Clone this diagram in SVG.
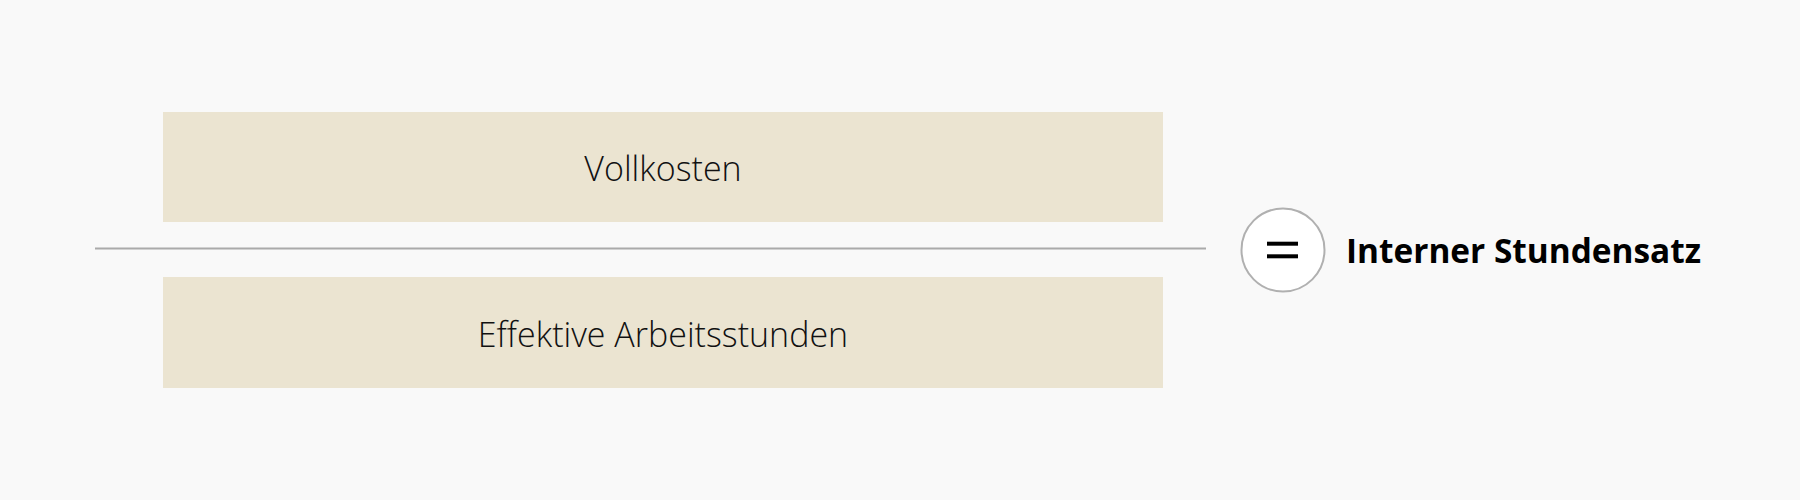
<svg xmlns="http://www.w3.org/2000/svg" width="1800" height="500" viewBox="0 0 1800 500">
<style>
.box{fill:#ebe4d1}
.lbl{font-family:"Open Sans","Noto Sans","Liberation Sans",sans-serif;font-weight:300;font-size:34px;fill:#111;text-anchor:middle}
.res{font-family:"Open Sans","Noto Sans","Liberation Sans",sans-serif;font-weight:700;font-size:34px;fill:#000}
.line{stroke:#aaaaaa;stroke-width:2;fill:none}
.bar{fill:#000}
</style>
<rect width="1800" height="500" fill="#f9f9f9"/>
<g id="connectors">
<line class="line" x1="95" y1="248.5" x2="1206" y2="248.5"/>
</g>
<g id="vollkosten">
<rect class="box" x="163" y="112" width="1000" height="110"/>
<text class="lbl" x="663" y="181">Vollkosten</text>
</g>
<g id="arbeitsstunden">
<rect class="box" x="163" y="277" width="1000" height="111"/>
<text class="lbl" x="663" y="347">Effektive Arbeitsstunden</text>
</g>
<g id="equals">
<circle cx="1283" cy="250" r="41.5" fill="#ffffff" stroke="#b0b0b0" stroke-width="2"/>
<rect class="bar" x="1267" y="241.7" width="31" height="4"/>
<rect class="bar" x="1267" y="254.3" width="31" height="4"/>
</g>
<g id="result">
<text class="res" x="1346" y="263" textLength="355" lengthAdjust="spacingAndGlyphs">Interner Stundensatz</text>
</g>
</svg>
